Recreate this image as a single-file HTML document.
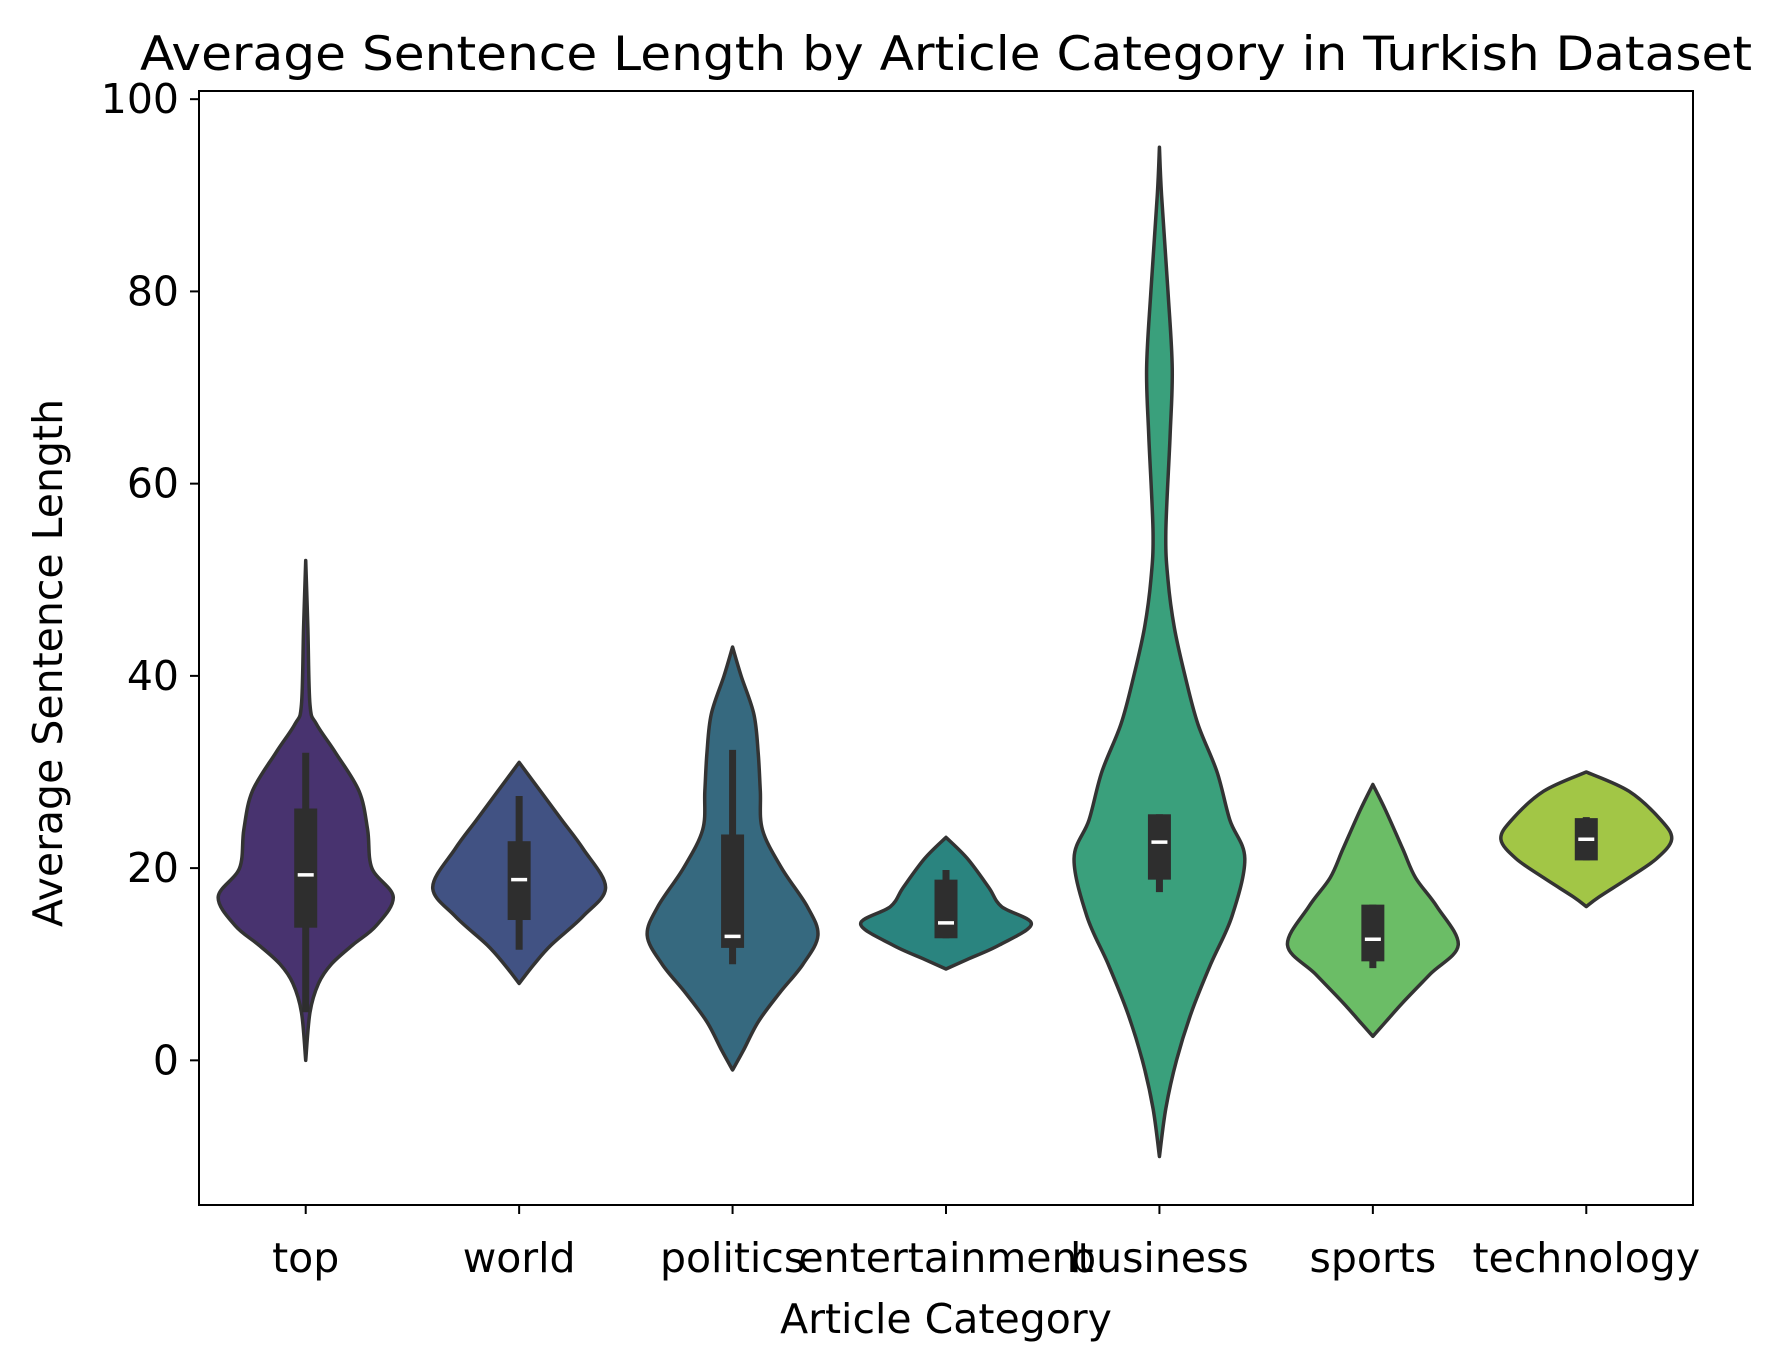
<!DOCTYPE html>
<html><head><meta charset="utf-8">
<style>
html,body{margin:0;padding:0;background:#fff;}
svg{display:block;}
text{font-family:"DejaVu Sans","Liberation Sans",sans-serif;fill:#000;}
</style></head>
<body>
<svg id="chart" width="1775" height="1361" viewBox="0 0 1775 1361">
  <rect x="0" y="0" width="1775" height="1361" fill="#fff"/>
  <text x="946" y="70" font-size="47" text-anchor="middle" textLength="1612" lengthAdjust="spacingAndGlyphs">Average Sentence Length by Article Category in Turkish Dataset</text>
  <g id="plot"></g>
  <rect x="199" y="91" width="1494" height="1114" fill="none" stroke="#000" stroke-width="2"/>
  <g id="axes"></g>
  <text x="946" y="1333" font-size="41" text-anchor="middle">Article Category</text>
  <text transform="translate(62,663) rotate(-90)" font-size="41" text-anchor="middle">Average Sentence Length</text>
</svg>
<script>
const categories = ["top","world","politics","entertainment","business","sports","technology"];
const colors = ["#48336f","#415283","#36697f","#2a847f","#3aa07c","#6bbd66","#a2c646"];
// density profiles: y-levels (values) and half-widths (category units)
const levTop = [52,45,37,35,32,28,24,20,17,14,12,10,8,5,0];
const wTop   = [0,0.01,0.02,0.05,0.14,0.25,0.29,0.31,0.41,0.33,0.22,0.12,0.06,0.02,0];
const levWorld = [31,28,25,22,18,15,12,10,8];
const wWorld   = [0,0.1,0.2,0.3,0.405,0.3,0.15,0.07,0];
const levPolitics = [43,40,36,32,28,24,20,16,13,10,7,4,1,-1];
const wPolitics   = [0,0.04,0.1,0.12,0.13,0.14,0.23,0.35,0.4,0.33,0.22,0.12,0.05,0];
const levEnt = [23.2,21,18,16,14.2,12,10.5,9.5];
const wEnt   = [0,0.1,0.2,0.26,0.4,0.25,0.1,0];
const levBusiness = [95,90,80,72,65,55,50,45,40,35,30,25,21,15,10,5,0,-5,-10];
const wBusiness   = [0,0.01,0.04,0.06,0.05,0.03,0.04,0.07,0.12,0.18,0.27,0.33,0.4,0.34,0.24,0.15,0.08,0.03,0];
const levSports = [28.7,26,22,19,16,12,9,6,4,2.5];
const wSports   = [0,0.06,0.14,0.2,0.3,0.4,0.27,0.14,0.06,0];
const levTech = [30,28,25,23,21,19,17,16];
const wTech   = [0,0.2,0.35,0.4,0.33,0.2,0.06,0];
// box stats
const q1 = [13.8,14.6,11.7,12.7,18.8,10.3,20.8];
const q3 = [26.2,22.8,23.5,18.8,25.6,16.2,25.2];
const medians = [19.3,18.8,12.9,14.3,22.7,12.6,23.0];
const whiskLo = [5,11.5,10,12.7,17.5,9.6,20.8];
const whiskHi = [32,27.5,32.3,19.8,25.6,16.2,25.3];
const yTicks = [0,20,40,60,80,100];

const levels = [levTop,levWorld,levPolitics,levEnt,levBusiness,levSports,levTech];
const widths = [wTop,wWorld,wPolitics,wEnt,wBusiness,wSports,wTech];

const X0=199,X1=1693,Y0=91,Y1=1205, xMin=-0.5,xMax=6.5, yMin=-15.05,yMax=100.85;
function xs(v){return X0+(v-xMin)/(xMax-xMin)*(X1-X0);}
function ys(v){return Y1-(v-yMin)/(yMax-yMin)*(Y1-Y0);}
const unit = (X1-X0)/(xMax-xMin);
const NS="http://www.w3.org/2000/svg";
const plot=document.getElementById('plot'), axes=document.getElementById('axes');
function mk(tag,attrs,parent){const e=document.createElementNS(NS,tag);for(const k in attrs)e.setAttribute(k,attrs[k]);parent.appendChild(e);return e;}

function spline(pts){
  let d="M"+pts[0][0].toFixed(2)+","+pts[0][1].toFixed(2);
  for(let i=0;i<pts.length-1;i++){
    const p0=pts[Math.max(0,i-1)],p1=pts[i],p2=pts[i+1],p3=pts[Math.min(pts.length-1,i+2)];
    const c1=[p1[0]+(p2[0]-p0[0])/6,p1[1]+(p2[1]-p0[1])/6];
    const c2=[p2[0]-(p3[0]-p1[0])/6,p2[1]-(p3[1]-p1[1])/6];
    d+="C"+c1[0].toFixed(2)+","+c1[1].toFixed(2)+" "+c2[0].toFixed(2)+","+c2[1].toFixed(2)+" "+p2[0].toFixed(2)+","+p2[1].toFixed(2);
  }
  return d;
}

categories.forEach((c,i)=>{
  const cx=xs(i), lv=levels[i], w=widths[i];
  const right=lv.map((v,k)=>[cx+w[k]*unit, ys(v)]);
  const left=lv.map((v,k)=>[cx-w[k]*unit, ys(v)]).reverse();
  const d=spline(right)+" "+spline(left).replace(/^M/,"L")+"Z";
  const g=mk('g',{},plot);
  
  
  const body=mk('path',{d:d,fill:colors[i],stroke:'#333',"stroke-width":3.5,"stroke-linejoin":"round"},g);
  
  
  const wl=mk('line',{x1:cx,x2:cx,y1:ys(whiskLo[i]),y2:ys(whiskHi[i]),stroke:'#2e2e2e',"stroke-width":7},g);
  
  
  const bx=mk('rect',{x:cx-11.5,y:ys(q3[i]),width:23,height:ys(q1[i])-ys(q3[i]),fill:'#2e2e2e'},g);
  
  
  const md=mk('line',{x1:cx-8,x2:cx+8,y1:ys(medians[i]),y2:ys(medians[i]),stroke:'#fff',"stroke-width":3.5},g);
  
  
  const tk=mk('line',{x1:cx,x2:cx,y1:Y1,y2:Y1+9,stroke:'#000',"stroke-width":2},axes);
  
  
  const tl=mk('text',{x:cx,y:1272,"font-size":41,"text-anchor":"middle"},axes);
  tl.textContent=c;
  
  
});
yTicks.forEach(v=>{
  const y=ys(v);
  const tk=mk('line',{x1:X0-9,x2:X0,y1:y,y2:y,stroke:'#000',"stroke-width":2},axes);
  
  
  const tl=mk('text',{x:X0-20,y:y+14,"font-size":41,"text-anchor":"end"},axes);
  tl.textContent=String(v);
  
  
});
</script>
</body></html>
